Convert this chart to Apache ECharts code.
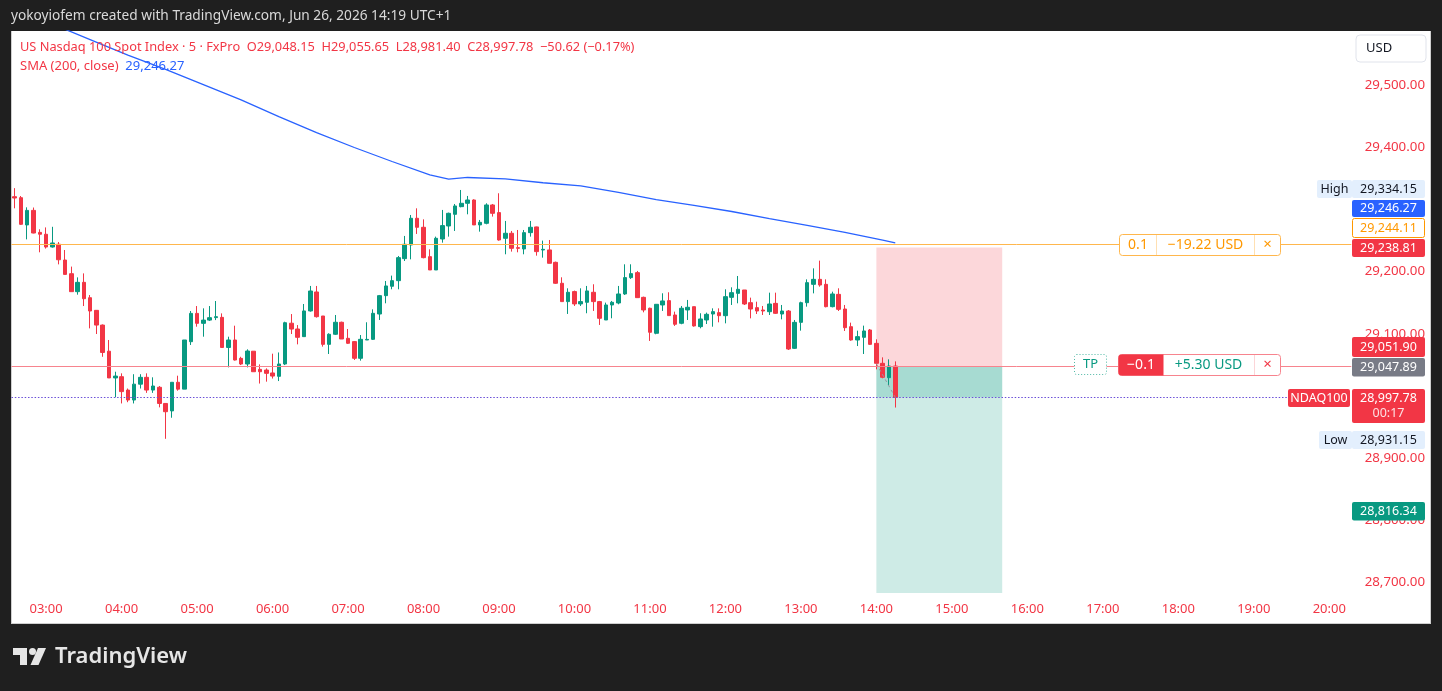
<!DOCTYPE html>
<html><head><meta charset="utf-8">
<script src="https://cdn.jsdelivr.net/npm/echarts@6/dist/echarts.min.js"></script>
<style>
html,body{margin:0;padding:0;background:#1f1f1f;width:1442px;height:691px;overflow:hidden;}
#panel{position:absolute;left:11px;top:31px;width:1418px;height:592px;background:#fff;border:1px solid #cfcfcf;border-top:none;}
#chart{position:absolute;left:0;top:0;width:1442px;height:691px;}
</style></head><body><div id="panel"></div><div id="chart"></div>
<script>
// ---- data ----
const startMinutes = 2 * 60 + 35;   // first bar 02:35
const barMinutes = 5;
const slotCount = 213;              // visible 5-min slots
const open = [29320.4,29318.8,29275,29298.4,29263,29260,29239.5,29244,29218.6,29196.6,29167.7,29182.7,29158,29137.7,29114,29072,29029,29031,29009.5,28993.5,29019,29030,29009.5,29014,28988,28976,29022,29011,29087.3,29132.8,29116.8,29122,29126,29126.4,29078,29090,29060.5,29051.4,29072,29042.8,29041.7,29037,29031.6,29051.4,29117,29107.7,29095.4,29136.7,29167.2,29128.6,29083,29099.2,29118.5,29092.7,29087.4,29060.6,29090,29091.1,29131.8,29161.3,29176.4,29185.4,29220.8,29242.8,29285.7,29271.2,29224,29202.6,29252.4,29273.3,29292.1,29304.4,29309.8,29315.1,29275,29277.6,29307.1,29294.8,29253.5,29261.6,29238.5,29236.4,29262.6,29271.8,29234.7,29234.8,29214.9,29181.2,29151.7,29167.8,29148,29150.6,29166.7,29151.7,29122.2,29146.3,29149.5,29164,29190.3,29198.3,29158.6,29141,29100.8,29146.3,29153.3,29130.2,29116.9,29138.3,29143.6,29111.5,29122.2,29131.8,29134,29129.1,29158.6,29165,29170.4,29150,29142,29138.2,29135.5,29148.9,29131.8,29136.6,29076.6,29118.4,29150,29179.5,29187.5,29179.5,29143.6,29163.4,29139.8,29111.4,29090,29094.3,29106.1,29084.6,29052.5,29029.4,29048.15];
const high = [29334.15,29321.5,29303.3,29303,29268,29271,29272,29247.5,29234.7,29208,29190.7,29197.1,29162.3,29138,29115,29090,29039,29036.4,29012,29035,29035,29036.4,29030,29016,28988,29022,29032.6,29090,29136.6,29144.6,29140.9,29144.6,29152.7,29132.8,29095.3,29113,29063,29075,29072,29050.8,29044.4,29068,29070,29119.4,29131.7,29114,29147.9,29176.9,29176.9,29128.6,29100.8,29130.2,29119.5,29107.7,29088.4,29098,29118.5,29139.3,29162.4,29184.9,29193.5,29225.1,29257.3,29291,29301.7,29284,29235.8,29256.2,29299.1,29294.8,29308.7,29331.2,29321.6,29316.2,29283,29309.8,29308.7,29325.9,29281.4,29265.3,29266.9,29266.9,29281.4,29272.3,29249.8,29250.8,29216,29190.8,29173.1,29169.4,29173.1,29176.9,29179.6,29152.8,29150.1,29152.8,29176.9,29211.7,29211.7,29201,29159.7,29142,29147.4,29165.1,29166.7,29135.6,29144.7,29154.4,29143.6,29133,29134,29140.9,29140.9,29171.5,29174.7,29192.9,29170.4,29158.1,29151.6,29144.7,29166.1,29166.1,29146.3,29138.2,29122.2,29151.6,29187.5,29205.2,29217.6,29187.5,29167.7,29173.1,29146.3,29117.9,29105,29113.1,29107.7,29091.1,29062.1,29058.9,29055.65];
const low = [29301.7,29275,29251.8,29261.5,29231,29237,29238.5,29211.6,29195.5,29167.7,29162.9,29144.6,29108.7,29099.6,29063,29029,28998,28988,28990,28988,29012,29005,29005,28981.7,28931.15,28965,29008.5,29011,29082,29111.4,29095.3,29120.5,29122,29078,29046,29057,29049.7,29046,29039,29020,29023,29028,29024,29049.7,29099.6,29083,29095.4,29135.6,29126,29079.3,29067.5,29098,29091.6,29083.6,29057.9,29056.8,29090,29090,29122.2,29149,29171.5,29171.5,29217,29219.7,29260.5,29221.3,29202.6,29202.6,29246.5,29256.2,29265.3,29303.3,29292.1,29275,29264.2,29276,29288.4,29249.7,29227.8,29232.1,29231,29227.8,29256.2,29225.6,29222.4,29213.3,29180.1,29151.7,29131.9,29144.7,29144.7,29133,29136.7,29114.2,29122.2,29124.9,29147.4,29162.4,29188.1,29158.1,29134.5,29088.5,29099.2,29136.7,29129.2,29112.6,29115.3,29122.2,29111.5,29108.8,29115.7,29111.4,29118.4,29116.8,29146.3,29149,29146.3,29124.8,29131.8,29130.2,29130.2,29131.8,29123.2,29073.9,29075.5,29105,29143.6,29165,29175.7,29142.5,29142.5,29136.6,29104.5,29088.9,29080.3,29067.5,29082,29042.8,29028.4,29017.6,28981.40];
const close = [29318.3,29276,29298.4,29262,29260,29239.5,29246,29219,29195.5,29167.7,29182.7,29156.4,29136.6,29114,29070,29029,29032,29007,28993.5,29019,29030,29009.5,29016,28988,28974.7,29022,29011,29090,29132.8,29116.8,29122,29125.9,29127.5,29078,29090,29057.8,29051.4,29072.3,29039,29039,29036.4,29032,29051.4,29117.8,29107.6,29094.3,29136.7,29168.8,29127.5,29083,29099.2,29118.5,29091.6,29084.7,29060.6,29091.1,29091,29132.9,29161.3,29176.9,29185.4,29222.4,29243.9,29285.7,29271.2,29222.4,29202.6,29253.5,29273.9,29293.7,29305.5,29309.8,29315.1,29275,29279.2,29307.1,29293.7,29250.8,29261.6,29237.4,29237.4,29262.6,29271.2,29232.1,29235.8,29213.3,29181.2,29151.7,29166.7,29148,29151.7,29168.9,29151.7,29124.9,29146.3,29150.6,29164,29190.3,29196.7,29158.1,29138.3,29102.4,29147.4,29152.8,29129.2,29115.3,29141,29142.6,29112.6,29123.8,29131.3,29135.6,29129.1,29159.7,29166.1,29171.5,29147.9,29139.8,29136.6,29136.6,29147.9,29132.9,29136.6,29075.5,29118.4,29150,29182.2,29187.5,29178.4,29143.6,29164,29139.3,29109.8,29090,29095.4,29104.5,29083,29052.5,29030,29048.2,28997.78];
// SMA(200) read at sampled bars
const smaBars = [0,6,12,18,24,30,36,42,48,54,60,66,69,72,78,84,90,96,102,108,114,120,126,132,138,140];
const smaValues = [29624,29598,29573,29548,29525,29500.6,29476,29449,29423.5,29399.5,29377,29355.5,29348.6,29351.3,29349,29342.8,29337.8,29327.5,29315.6,29306.6,29296.6,29285.2,29274.3,29263,29250.6,29246.27];
// levels
const stopLevel = 29244.11, entryLevel = 29051.90, orderLevel = 29047.89, lastPrice = 28997.78;
const boxTop = 29238.81, boxBottom = 28683.3, targetLevel = 28816.34;
const boxStart = '14:00', boxEnd = '15:40', pathStartBar = 137, pathEndBar = 140;
const yMin = 28676.8, yMax = 29586.8;

const categories = [];
for (let k = 0; k < slotCount; k++) {
  const m = startMinutes + k * barMinutes;
  categories.push(String(Math.floor(m / 60)).padStart(2, '0') + ':' + String(m % 60).padStart(2, '0'));
}
const candles = open.map((o, k) => [o, close[k], low[k], high[k]]);
const sma = new Array(open.length).fill(null);
smaBars.forEach((b, k) => { sma[b] = smaValues[k]; });
const fmt = v => v.toLocaleString('en-US', {minimumFractionDigits: 2, maximumFractionDigits: 2});

const FONT = '"Noto Sans", sans-serif';
const RED = '#f23645', GREEN = '#089981', BLUE = '#2962ff', ORANGE = '#ff9800';

function rect(x, y, w, h, fill, stroke, extra) {
  return Object.assign({type: 'rect', z: 100, shape: {x, y, width: w, height: h, r: 2},
    style: {fill, stroke: stroke || null, lineWidth: 1}}, extra || {});
}
function txt(x, y, text, color, size, align, weight) {
  return {type: 'text', z: 101, x, y, style: {text, fill: color,
    font: (weight || 'normal') + ' ' + size + 'px ' + FONT,
    textAlign: align || 'center', textVerticalAlign: 'middle', align: align || 'center', verticalAlign: 'middle'}};
}
function tag(x, y, w, h, fill, stroke, text, color) {
  return [rect(x, y, w, h, fill, stroke), txt(x + w / 2, y + h / 2, text, color, 12.5, 'center')];
}

const chart = echarts.init(document.getElementById('chart'));
const graphics = [].concat(
  [txt(11, 16.5, 'yokoyiofem created with TradingView.com, Jun 26, 2026 14:19 UTC+1', '#d9d9d9', 13.7, 'left')],
  [{type: 'text', z: 101, x: 20, y: 47.5, style: {text: 'US Nasdaq 100 Spot Index · 5 · FxPro  O29,048.15  H29,055.65  L28,981.40  C28,997.78  −50.62 (−0.17%)',
      fill: RED, font: '12.8px ' + FONT, textVerticalAlign: 'middle', verticalAlign: 'middle'}}],
  [{type: 'text', z: 101, x: 20, y: 66, style: {text: '{a|SMA (200, close)}  {b|29,246.27}',
      font: '13px ' + FONT, textVerticalAlign: 'middle', verticalAlign: 'middle',
      rich: {a: {fill: RED, color: RED, fontSize: 13, fontFamily: FONT}, b: {fill: BLUE, color: BLUE, fontSize: 13, fontFamily: FONT}}}}],
  [rect(1356, 35, 70, 27, '#fff', '#e0e3eb', {shape: {x: 1356, y: 35, width: 70, height: 27, r: 4}}), txt(1366, 48.5, 'USD', '#131722', 13, 'left')],
  // High / Low
  tag(1317, 180, 35, 18, '#e3effd', null, 'High', '#131722'),
  tag(1352, 180, 73, 18, '#e3effd', null, '29,334.15', '#131722'),
  tag(1319, 431, 33, 18, '#e3effd', null, 'Low', '#131722'),
  tag(1352, 431, 73, 18, '#e3effd', null, '28,931.15', '#131722'),
  // scale tags
  tag(1352, 200, 73, 17, BLUE, null, '29,246.27', '#fff'),
  tag(1352.5, 218.5, 72, 19, '#fff', ORANGE, '29,244.11', ORANGE),
  tag(1352, 239, 73, 18, RED, null, '29,238.81', '#fff'),
  tag(1352, 337, 73, 20, RED, null, '29,051.90', '#fff'),
  tag(1352, 358, 73, 18.5, '#787b86', null, '29,047.89', '#fff'),
  tag(1352, 502, 73, 18.5, GREEN, null, '28,816.34', '#fff'),
  tag(1288, 389, 62, 18, RED, null, 'NDAQ100', '#fff'),
  [rect(1352, 389, 73, 34, RED, null), txt(1388.5, 398, '28,997.78', '#fff', 12.5), txt(1388.5, 413.5, '00:17', '#fde0e3', 12.5)],
  // stop order label
  [rect(1119.5, 234.5, 161, 21, '#fff', '#ffb74d', {shape: {x: 1119.5, y: 234.5, width: 161, height: 21, r: 3}}),
   {type: 'line', z: 101, shape: {x1: 1156.5, y1: 235, x2: 1156.5, y2: 255}, style: {stroke: '#ffe0b2', lineWidth: 1}},
   {type: 'line', z: 101, shape: {x1: 1254.5, y1: 235, x2: 1254.5, y2: 255}, style: {stroke: '#ffe0b2', lineWidth: 1}},
   txt(1138, 245, '0.1', ORANGE, 14), txt(1205.5, 245, '−19.22 USD', ORANGE, 14), txt(1267.5, 245, '×', ORANGE, 15)],
  // TP + position label
  [rect(1074.5, 354.5, 32, 20, '#fff', '#4fb8a5', {style: {fill: '#fff', stroke: '#4fb8a5', lineWidth: 1, lineDash: [1, 2]}}),
   txt(1090.5, 364.5, 'TP', GREEN, 13),
   rect(1118.5, 354.5, 162, 21, '#fff', '#f7848e', {shape: {x: 1118.5, y: 354.5, width: 162, height: 21, r: 3}}),
   rect(1118.5, 354.5, 45, 21, RED, null, {shape: {x: 1118.5, y: 354.5, width: 45, height: 21, r: [3, 0, 0, 3]}}),
   {type: 'line', z: 101, shape: {x1: 1254.5, y1: 355, x2: 1254.5, y2: 375}, style: {stroke: '#fcd5d8', lineWidth: 1}},
   txt(1141, 365, '−0.1', '#fff', 14), txt(1208.5, 365, '+5.30 USD', GREEN, 14), txt(1267.5, 365, '×', RED, 15)],
  // logo
  [{type: 'rect', z: 101, shape: {x: 13, y: 648, width: 14, height: 7}, style: {fill: '#e6e6e6'}},
   {type: 'rect', z: 101, shape: {x: 20, y: 648, width: 7, height: 17}, style: {fill: '#e6e6e6'}},
   {type: 'circle', z: 101, shape: {cx: 32.5, cy: 651.5, r: 3.5}, style: {fill: '#e6e6e6'}},
   {type: 'polygon', z: 101, shape: {points: [[38, 648], [46, 648], [38.5, 665], [30.5, 665]]}, style: {fill: '#e6e6e6'}},
   txt(55, 657, 'TradingView', '#e6e6e6', 22, 'left', '600')]
);

chart.setOption({
  animation: false,
  backgroundColor: 'transparent',
  textStyle: {fontFamily: FONT},
  grid: {left: 11.5, top: 31, width: 1339.8, height: 566, containLabel: false},
  xAxis: {type: 'category', data: categories, boundaryGap: true,
    axisLine: {show: false}, axisTick: {show: false}, splitLine: {show: false},
    axisLabel: {interval: (i, v) => v.endsWith(':00'), color: RED, fontSize: 13, margin: 6}},
  yAxis: {type: 'value', position: 'right', min: yMin, max: yMax, splitNumber: 9,
    axisLine: {show: false}, axisTick: {show: false}, splitLine: {show: false},
    axisLabel: {showMinLabel: false, showMaxLabel: false, color: RED, fontSize: 13.3, align: 'right', margin: 73.7, formatter: v => fmt(v)}},
  series: [
    {type: 'candlestick', data: candles, barWidth: '64%',
      itemStyle: {color: GREEN, color0: RED, borderColor: GREEN, borderColor0: RED, borderWidth: 1},
      markArea: {silent: true, data: [
        [{xAxis: boxStart, yAxis: boxTop, itemStyle: {color: 'rgba(242,54,69,0.2)'}}, {xAxis: boxEnd, yAxis: orderLevel}],
        [{xAxis: boxStart, yAxis: orderLevel, itemStyle: {color: 'rgba(8,153,129,0.2)'}}, {xAxis: boxEnd, yAxis: boxBottom}],
        [{xAxis: boxStart, yAxis: orderLevel, itemStyle: {color: 'rgba(8,153,129,0.2)'}}, {xAxis: boxEnd, yAxis: lastPrice}]
      ]},
      markLine: {silent: true, symbol: ['none', 'none'], label: {show: false}, data: [
        {yAxis: stopLevel, lineStyle: {color: '#ffb74d', width: 1, type: 'solid'}},
        {yAxis: orderLevel, lineStyle: {color: '#f7848e', width: 1, type: 'solid'}},
        {yAxis: lastPrice, lineStyle: {color: '#6a4fd8', width: 1.2, type: [1.5, 1.8]}},
        [{coord: [pathStartBar, entryLevel], lineStyle: {color: '#9598a1', width: 1, type: [3, 3]}}, {coord: [pathEndBar, lastPrice]}]
      ]}
    },
    {type: 'line', data: sma, connectNulls: true, showSymbol: false, symbol: 'none',
      lineStyle: {color: BLUE, width: 1.3}, z: 3, clip: true}
  ],
  graphic: {elements: graphics}
});
</script></body></html>
